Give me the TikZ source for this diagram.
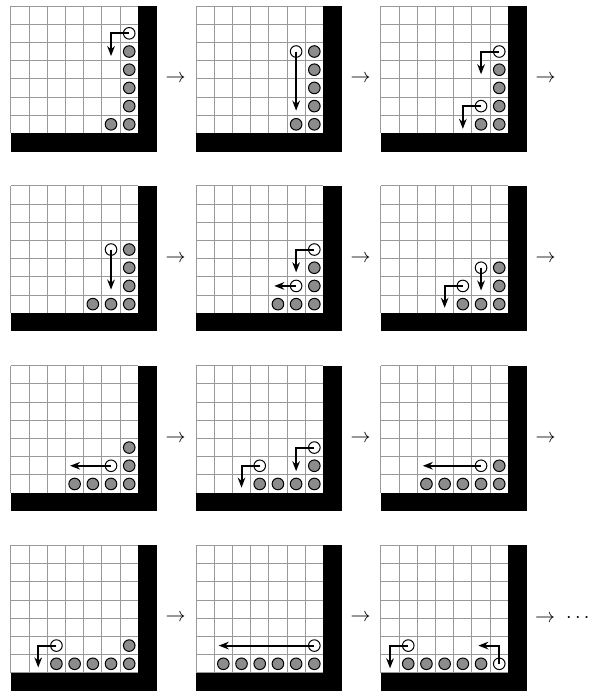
\documentclass[tikz,border=0pt]{standalone}
\usetikzlibrary{arrows.meta}

\tikzset{
  ball/.style={circle,draw,line width=0.5pt,minimum size=5.8pt,inner sep=0pt,fill=black!45},
  hole/.style={circle,draw,line width=0.5pt,minimum size=5.8pt,inner sep=0pt,fill=white},
  move/.style={line width=1pt,-{Stealth[length=5pt,width=3.8pt]}},
}
\newcommand{\board}{%
  \draw[black!40,line width=0.5pt,step=1] (0,0) grid (7,7);
  \fill (7,-1) rectangle (8,7);
  \fill (0,-1) rectangle (8,0);
}

\begin{document}
\begin{tikzpicture}[x=9.1pt,y=9.1pt,inner sep=0pt]
\useasboundingbox (0,0) rectangle (32.36,-38.13);

% row 1
\begin{scope}[shift={(0.6,-7.33)}]
\board
\node[ball] (p1g1) at (6.5,0.5) {}; \node[ball] (p1g2) at (6.5,1.5) {};
\node[ball] (p1g3) at (6.5,2.5) {}; \node[ball] (p1g4) at (6.5,3.5) {};
\node[ball] (p1g5) at (6.5,4.5) {}; \node[ball] (p1g6) at (5.5,0.5) {};
\node[hole] (p1w) at (6.5,5.5) {};
\coordinate (p1e) at (5.5,4.25);
\draw[move] (p1w.center) -| (p1e);
\node (p1n) at (9.05,3) {$\rightarrow$};
\end{scope}

\begin{scope}[shift={(10.77,-7.33)}]
\board
\node[ball] (p2g1) at (6.5,0.5) {}; \node[ball] (p2g2) at (6.5,1.5) {};
\node[ball] (p2g3) at (6.5,2.5) {}; \node[ball] (p2g4) at (6.5,3.5) {};
\node[ball] (p2g5) at (6.5,4.5) {}; \node[ball] (p2g6) at (5.5,0.5) {};
\node[hole] (p2w) at (5.5,4.5) {};
\coordinate (p2e) at (5.5,1.25);
\draw[move] (p2w.center) -- (p2e);
\node (p2n) at (9.05,3) {$\rightarrow$};
\end{scope}

\begin{scope}[shift={(20.93,-7.33)}]
\board
\node[ball] (p3g1) at (6.5,0.5) {}; \node[ball] (p3g2) at (6.5,1.5) {};
\node[ball] (p3g3) at (6.5,2.5) {}; \node[ball] (p3g4) at (6.5,3.5) {};
\node[ball] (p3g5) at (5.5,0.5) {};
\node[hole] (p3w) at (6.5,4.5) {};
\node[hole] (p3v) at (5.5,1.5) {};
\coordinate (p3e) at (5.5,3.25);
\coordinate (p3f) at (4.5,0.25);
\draw[move] (p3w.center) -| (p3e);
\draw[move] (p3v.center) -| (p3f);
\node (p3n) at (9.05,3) {$\rightarrow$};
\end{scope}

% row 2
\begin{scope}[shift={(0.6,-17.21)}]
\board
\node[ball] (p4g1) at (6.5,0.5) {}; \node[ball] (p4g2) at (6.5,1.5) {};
\node[ball] (p4g3) at (6.5,2.5) {}; \node[ball] (p4g4) at (6.5,3.5) {};
\node[ball] (p4g5) at (5.5,0.5) {}; \node[ball] (p4g6) at (4.5,0.5) {};
\node[hole] (p4w) at (5.5,3.5) {};
\coordinate (p4e) at (5.5,1.3);
\draw[move] (p4w.center) -- (p4e);
\node (p4n) at (9.05,3) {$\rightarrow$};
\end{scope}

\begin{scope}[shift={(10.77,-17.21)}]
\board
\node[ball] (p5g1) at (6.5,0.5) {}; \node[ball] (p5g2) at (6.5,1.5) {};
\node[ball] (p5g3) at (6.5,2.5) {}; \node[ball] (p5g4) at (5.5,0.5) {};
\node[ball] (p5g5) at (4.5,0.5) {};
\node[hole] (p5w) at (6.5,3.5) {};
\node[hole] (p5v) at (5.5,1.5) {};
\coordinate (p5e) at (5.5,2.25);
\coordinate (p5f) at (4.3,1.5);
\draw[move] (p5w.center) -| (p5e);
\draw[move] (p5v.center) -- (p5f);
\node (p5n) at (9.05,3) {$\rightarrow$};
\end{scope}

\begin{scope}[shift={(20.93,-17.21)}]
\board
\node[ball] (p6g1) at (6.5,0.5) {}; \node[ball] (p6g2) at (6.5,1.5) {};
\node[ball] (p6g3) at (6.5,2.5) {}; \node[ball] (p6g4) at (5.5,0.5) {};
\node[ball] (p6g5) at (4.5,0.5) {};
\node[hole] (p6w) at (5.5,2.5) {};
\node[hole] (p6v) at (4.5,1.5) {};
\coordinate (p6e) at (5.5,1.25);
\coordinate (p6f) at (3.5,0.3);
\draw[move] (p6w.center) -- (p6e);
\draw[move] (p6v.center) -| (p6f);
\node (p6n) at (9.05,3) {$\rightarrow$};
\end{scope}

% row 3
\begin{scope}[shift={(0.6,-27.09)}]
\board
\node[ball] (p7g1) at (6.5,0.5) {}; \node[ball] (p7g2) at (6.5,1.5) {};
\node[ball] (p7g3) at (6.5,2.5) {}; \node[ball] (p7g4) at (5.5,0.5) {};
\node[ball] (p7g5) at (4.5,0.5) {}; \node[ball] (p7g6) at (3.5,0.5) {};
\node[hole] (p7w) at (5.5,1.5) {};
\coordinate (p7e) at (3.25,1.5);
\draw[move] (p7w.center) -- (p7e);
\node (p7n) at (9.05,3) {$\rightarrow$};
\end{scope}

\begin{scope}[shift={(10.77,-27.09)}]
\board
\node[ball] (p8g1) at (6.5,0.5) {}; \node[ball] (p8g2) at (6.5,1.5) {};
\node[ball] (p8g3) at (5.5,0.5) {}; \node[ball] (p8g4) at (4.5,0.5) {};
\node[ball] (p8g5) at (3.5,0.5) {};
\node[hole] (p8w) at (6.5,2.5) {};
\node[hole] (p8v) at (3.5,1.5) {};
\coordinate (p8e) at (5.5,1.2);
\coordinate (p8f) at (2.5,0.3);
\draw[move] (p8w.center) -| (p8e);
\draw[move] (p8v.center) -| (p8f);
\node (p8n) at (9.05,3) {$\rightarrow$};
\end{scope}

\begin{scope}[shift={(20.93,-27.09)}]
\board
\node[ball] (p9g1) at (6.5,0.5) {}; \node[ball] (p9g2) at (6.5,1.5) {};
\node[ball] (p9g3) at (5.5,0.5) {}; \node[ball] (p9g4) at (4.5,0.5) {};
\node[ball] (p9g5) at (3.5,0.5) {}; \node[ball] (p9g6) at (2.5,0.5) {};
\node[hole] (p9w) at (5.5,1.5) {};
\coordinate (p9e) at (2.3,1.5);
\draw[move] (p9w.center) -- (p9e);
\node (p9n) at (9.05,3) {$\rightarrow$};
\end{scope}

% row 4
\begin{scope}[shift={(0.6,-36.97)}]
\board
\node[ball] (p10g1) at (6.5,0.5) {}; \node[ball] (p10g2) at (6.5,1.5) {};
\node[ball] (p10g3) at (5.5,0.5) {}; \node[ball] (p10g4) at (4.5,0.5) {};
\node[ball] (p10g5) at (3.5,0.5) {}; \node[ball] (p10g6) at (2.5,0.5) {};
\node[hole] (p10w) at (2.5,1.5) {};
\coordinate (p10e) at (1.5,0.3);
\draw[move] (p10w.center) -| (p10e);
\node (p10n) at (9.05,3) {$\rightarrow$};
\end{scope}

\begin{scope}[shift={(10.77,-36.97)}]
\board
\node[ball] (p11g1) at (6.5,0.5) {}; \node[ball] (p11g2) at (5.5,0.5) {};
\node[ball] (p11g3) at (4.5,0.5) {}; \node[ball] (p11g4) at (3.5,0.5) {};
\node[ball] (p11g5) at (2.5,0.5) {}; \node[ball] (p11g6) at (1.5,0.5) {};
\node[hole] (p11w) at (6.5,1.5) {};
\coordinate (p11e) at (1.25,1.5);
\draw[move] (p11w.center) -- (p11e);
\node (p11n) at (9.05,3) {$\rightarrow$};
\end{scope}

\begin{scope}[shift={(20.93,-36.97)}]
\board
\node[ball] (p12g1) at (5.5,0.5) {}; \node[ball] (p12g2) at (4.5,0.5) {};
\node[ball] (p12g3) at (3.5,0.5) {}; \node[ball] (p12g4) at (2.5,0.5) {};
\node[ball] (p12g5) at (1.5,0.5) {};
\node[hole] (p12w) at (6.5,0.5) {};
\node[hole] (p12v) at (1.5,1.5) {};
\coordinate (p12e) at (5.35,1.5);
\coordinate (p12f) at (0.5,0.25);
\draw[move] (p12w.center) |- (p12e);
\draw[move] (p12v.center) -| (p12f);
\node[anchor=west] (p12n) at (8.45,3) {$\rightarrow\;\cdots$};
\end{scope}
\end{tikzpicture}
\end{document}
